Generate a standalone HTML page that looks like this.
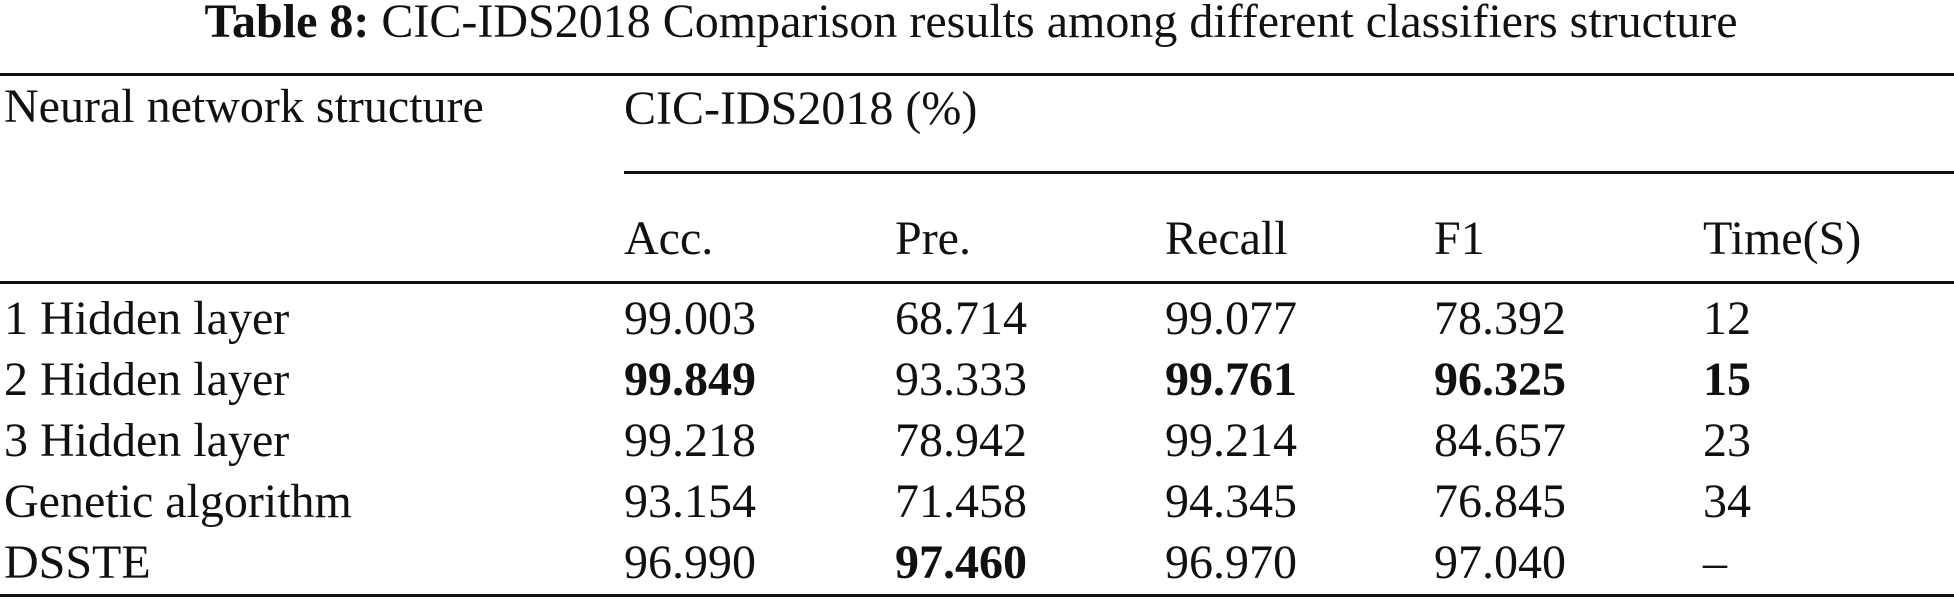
<!DOCTYPE html>
<html><head><meta charset="utf-8"><style>
html,body{margin:0;padding:0;background:#fff;}
svg{display:block;font-family:"Liberation Serif",serif;}
text{font-size:48px;fill:#111;}
.b{font-weight:bold;}
</style></head><body>
<svg width="1954" height="600" viewBox="0 0 1954 600">
<text x="971" y="37" text-anchor="middle"><tspan class="b">Table 8:</tspan>  CIC-IDS2018 Comparison results among different classifiers structure</text>
<rect x="0" y="73" width="1954" height="3" fill="#111"/>
<rect x="624" y="171" width="1330" height="3" fill="#111"/>
<rect x="0" y="281" width="1954" height="3" fill="#111"/>
<rect x="0" y="594" width="1954" height="3" fill="#111"/>
<text x="4" y="122">Neural network structure</text>
<text x="624" y="124">CIC-IDS2018 (%)</text>
<g id="body"></g>
</svg>
<script>
const cols=["Acc.","Pre.","Recall","F1","Time(S)"];
const rowsLabels=["1 Hidden layer","2 Hidden layer","3 Hidden layer","Genetic algorithm","DSSTE"];
const acc=["99.003","99.849","99.218","93.154","96.990"];
const pre=["68.714","93.333","78.942","71.458","97.460"];
const rec=["99.077","99.761","99.214","94.345","96.970"];
const f1=["78.392","96.325","84.657","76.845","97.040"];
const time=["12","15","23","34","–"];
const bold=[[0,0,0,0,0],[1,0,1,1,1],[0,0,0,0,0],[0,0,0,0,0],[0,1,0,0,0]];
const NS="http://www.w3.org/2000/svg";
const g=document.getElementById('body');
const colX=[624,895,1165,1434,1703];
const mk=(x,y,t,b)=>{const e=document.createElementNS(NS,'text');e.setAttribute('x',x);e.setAttribute('y',y);e.textContent=t;if(b)e.setAttribute('class','b');g.appendChild(e);return e;};
cols.forEach((c,i)=>{const e=mk(colX[i],254,c,0);

});
const series=[acc,pre,rec,f1,time];
rowsLabels.forEach((r,j)=>{const y=334+j*61;
const l=mk(4,y,r,0);


series.forEach((s,i)=>{const e=mk(colX[i],y,s[j],bold[j][i]);

});});
</script>
</body></html>
